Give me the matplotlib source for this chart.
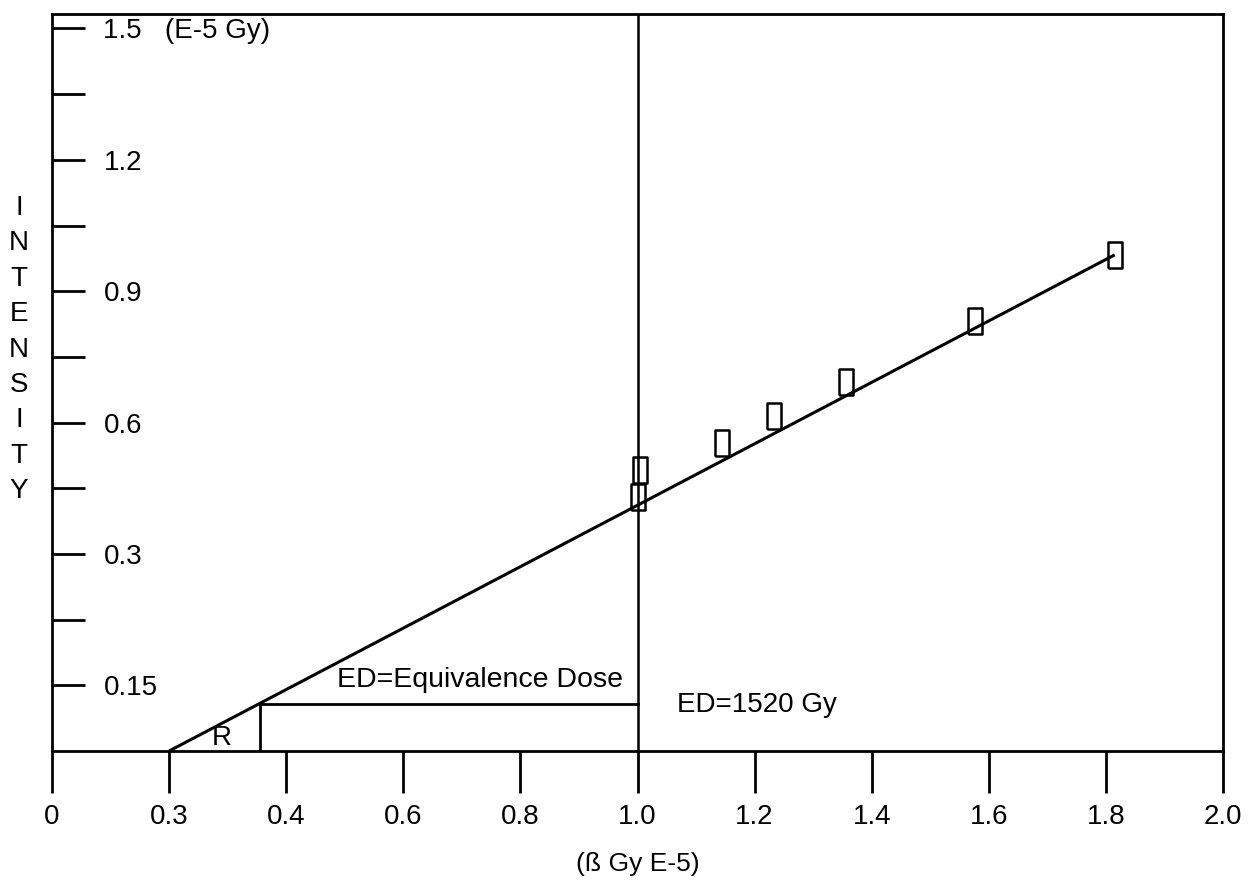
import numpy as np
import matplotlib
matplotlib.use("Agg")
import matplotlib.pyplot as plt

plt.rcParams["font.family"] = ["Liberation Sans", "DejaVu Sans"]

# measured points (added dose vs. intensity)
dose = [1.0, 1.005, 1.144, 1.233, 1.356, 1.576, 1.815]
intensity = [0.58, 0.641, 0.703, 0.764, 0.843, 0.983, 1.133]

# regression line end points, ED construction
fit_dose = [0.2, 1.815]
fit_intensity = [0.0, 1.133]
natural_dose = 1.0
r_dose = 0.355
r_level = 0.108

x_tick_labels = ["0", "0.3", "0.4", "0.6", "0.8", "1.0", "1.2", "1.4", "1.6", "1.8", "2.0"]
y_tick_labels = ["0.15", "", "0.3", "", "0.6", "", "0.9", "", "1.2", "", "1.5   (E-5 Gy)"]
y_title = "INTENSITY"
x_title = "(\u00df Gy E-5)"

LW = 2.0

fig = plt.figure(figsize=(12.55, 8.8), dpi=100)
ax = fig.add_axes([52 / 1255, 129 / 880, 1171 / 1255, 737 / 880])

# rectangle marker, twice as tall as wide
rect = [(-0.5, -1), (0.5, -1), (0.5, 1), (-0.5, 1), (-0.5, -1)]

ax.plot(fit_dose, fit_intensity, color="black", lw=2.2, solid_capstyle="butt")
ax.plot(dose, intensity, linestyle="none", marker=rect, markersize=19,
        markerfacecolor="none", markeredgecolor="black", markeredgewidth=1.8)

ax.axvline(natural_dose, color="black", lw=1.8)
ax.plot([r_dose, natural_dose], [r_level, r_level], color="black", lw=LW)
ax.plot([r_dose, r_dose], [0, r_level], color="black", lw=LW)

ax.text(0.29, 0.0, "R", fontsize=20, ha="center", va="bottom")
ax.text(0.975, 0.146, "ED=Equivalence Dose", fontsize=20.5, ha="right", va="baseline")
ax.text(1.067, 0.089, "ED=1520 Gy", fontsize=20, ha="left", va="baseline")

ax.set_xlim(0, 2.0)
ax.set_ylim(0, 1.683)

ax.set_xticks(np.arange(11) * 0.2)
ax.set_xticklabels(x_tick_labels, fontsize=20)
ax.tick_params(axis="x", direction="out", length=30, width=LW, pad=8)

ax.set_yticks(np.arange(1, 12) * 0.15)
ax.set_yticklabels(y_tick_labels, fontsize=20, ha="left")
ax.tick_params(axis="y", direction="in", length=24, width=LW, pad=-37)

for side in ["left", "right", "top", "bottom"]:
    ax.spines[side].set_linewidth(LW)

ax.set_xlabel(x_title, fontsize=19, labelpad=16)

# stacked vertical letters for the y title
for i, ch in enumerate(y_title):
    fig.text(19 / 1255, 1 - (208 + i * 35.4) / 880, ch, fontsize=20,
             ha="center", va="center")

fig.savefig("out.png", dpi=100)
